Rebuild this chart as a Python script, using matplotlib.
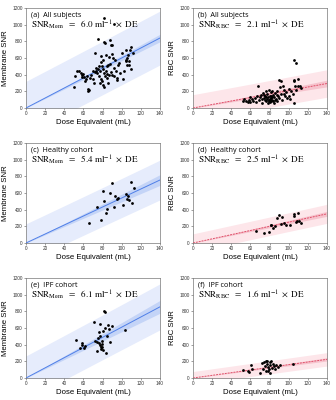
import numpy as np
import matplotlib
matplotlib.use('Agg')
import matplotlib.pyplot as plt

plt.rcParams['font.family'] = ['Liberation Sans', 'DejaVu Sans']
plt.rcParams['mathtext.fontset'] = 'stix'

# (a) all subjects, membrane
a_x = [50, 51, 53, 55, 57, 58, 59, 60, 61, 62, 63, 64, 65, 65, 66, 67, 68, 70, 71, 72,
       73, 73, 74, 75, 75, 76, 76, 77, 77, 78, 78, 79, 79, 80, 80, 80, 81, 81, 82, 82,
       83, 83, 84, 84, 85, 85, 86, 87, 87, 88, 88, 89, 89, 90, 90, 91, 92, 92, 93, 94,
       95, 95, 96, 97, 98, 100, 101, 102, 104, 105, 106, 106, 107, 108, 108, 109, 110, 110, 112, 105,
       90, 85, 70, 72, 78, 86, 92]
a_y = [250, 390, 450, 445, 420, 370, 400, 410, 370, 330, 350, 380, 230, 210, 220, 360, 400, 350, 300, 660,
       480, 440, 420, 470, 830, 500, 380, 300, 450, 550, 620, 500, 330, 580, 470, 280, 1080, 420, 790, 250,
       780, 380, 640, 450, 500, 360, 520, 610, 400, 820, 530, 750, 430, 650, 760, 600, 480, 390, 570, 450,
       360, 340, 520, 540, 420, 660, 350, 450, 560, 700, 520, 600, 630, 560, 520, 700, 730, 470, 660, 580,
       400, 410, 440, 430, 350, 300, 1010]

# (b) all subjects, RBC
b_x = [52, 53, 55, 57, 58, 60, 60, 62, 63, 65, 66, 67, 68, 69, 70, 71, 72, 72, 73, 74,
       75, 75, 76, 76, 77, 77, 78, 78, 79, 79, 80, 80, 80, 81, 81, 82, 82, 83, 83, 84,
       84, 85, 85, 86, 87, 88, 88, 89, 90, 90, 91, 92, 92, 93, 94, 95, 96, 97, 98, 100,
       101, 102, 104, 105, 105, 106, 106, 107, 108, 108, 110, 110, 112, 113, 100, 95, 88, 86, 76, 74,
       79, 83]
b_y = [80, 110, 90, 75, 100, 70, 130, 110, 90, 120, 75, 150, 270, 100, 130, 160, 60, 110, 180, 120,
       95, 140, 200, 80, 110, 170, 130, 60, 90, 220, 110, 150, 70, 190, 120, 80, 140, 100, 200, 160,
       90, 130, 60, 180, 110, 210, 80, 150, 340, 120, 250, 330, 170, 100, 260, 220, 140, 190, 120, 230,
       110, 200, 170, 570, 330, 340, 60, 260, 540, 220, 350, 260, 260, 240, 140, 170, 160, 95, 130, 160,
       100, 130]

# (c) healthy, membrane
c_x = [66, 78, 74, 80, 82, 84, 85, 88, 90, 92, 93, 95, 96, 101, 105, 106, 107, 108, 110, 111, 113]
c_y = [240, 275, 430, 625, 510, 360, 410, 605, 715, 430, 570, 530, 540, 455, 590, 530, 560, 520, 735, 475, 665]

# (d) healthy, RBC
d_x = [66, 74, 79, 81, 82, 84, 86, 88, 90, 92, 93, 95, 97, 101, 105, 106, 108, 109, 110, 111, 113]
d_y = [145, 120, 130, 215, 220, 180, 210, 300, 340, 230, 310, 235, 215, 220, 345, 330, 250, 260, 355, 265, 240]

# (e) IPF, membrane
e_x = [52.6, 56.4, 58.5, 58.9, 60.6, 61.3, 71.4, 72, 73.8, 74.5, 75, 76, 76.6, 77.3, 77.7, 78.4, 79, 79.4,
       79.8, 80, 80.5, 81.2, 82.2, 83, 83.6, 84.3, 85.3, 86.7, 87.8, 90, 103, 77, 78]
e_y = [451, 366, 395, 423, 366, 383, 668, 443, 435, 330, 479, 556, 423, 508, 648, 354, 443, 411,
       378, 338, 564, 801, 789, 604, 298, 508, 636, 592, 435, 624, 572, 400, 370]

# (f) IPF, RBC
f_x = [52.6, 57.5, 58.5, 60.3, 62, 70.4, 71.8, 73.5, 74.5, 75.2, 76, 77, 77.7, 78, 78.7, 79.4, 80, 80.8,
       81.5, 82.2, 83.2, 84.3, 85.7, 87, 88.5, 90.5, 104.5, 76.5, 80.4]
f_y = [101, 80, 68, 153, 113, 64, 177, 113, 193, 141, 201, 169, 205, 80, 133, 105, 193, 153,
       201, 121, 169, 145, 113, 161, 133, 153, 165, 89, 64]

labels = ['(a)  All subjects', '(b)  All subjects', '(c)  Healthy cohort',
          '(d)  Healthy cohort', '(e)  IPF cohort', '(f)  IPF cohort']
subs = ['Mem', 'RBC', 'Mem', 'RBC', 'Mem', 'RBC']
slopes = [6.0, 2.1, 5.4, 2.5, 6.1, 1.6]
pred_half0 = [320, 160, 230, 110, 265, 78]     # prediction band half-width at DE = 0
conf_half140 = [45, 40, 64, 30, 77, 20]       # confidence band half-width at DE = 140
xs = [a_x, b_x, c_x, d_x, e_x, f_x]
ys = [a_y, b_y, c_y, d_y, e_y, f_y]

fig = plt.figure(figsize=(3.36, 4.0), dpi=100)
lefts = [26 / 336, 193 / 336]
bottoms = [1 - 108 / 400, 1 - 243 / 400, 1 - 378 / 400]
w, h = 134 / 336, 100 / 400

grid = np.linspace(0, 140, 200)
for i in range(6):
    ax = fig.add_axes([lefts[i % 2], bottoms[i // 2], w, h])
    mem = subs[i] == 'Mem'
    light = '#e6ecfc' if mem else '#fde6ea'
    dark = '#c4d4f7' if mem else '#f6c3cd'
    lc = '#4f7fe8' if mem else '#e0506a'

    fit = slopes[i] * grid
    conf = conf_half140[i] * grid / 140
    pred = np.sqrt(pred_half0[i] ** 2 + conf ** 2)
    ax.fill_between(grid, fit - pred, fit + pred, color=light, lw=0, zorder=1)
    ax.fill_between(grid, fit - conf, fit + conf, color=dark, lw=0, zorder=2)
    ax.plot(grid, fit, color=lc, lw=0.7, ls='-' if mem else (0, (2, 1)), zorder=3)
    ax.scatter(xs[i], ys[i], s=4, color='black', lw=0, zorder=4)

    ax.set_xlim(0, 140)
    ax.set_ylim(0, 1200)
    ax.set_xticks(range(0, 141, 20))
    ax.set_yticks(range(0, 1201, 200))
    ax.tick_params(labelsize=3.4, length=1.5, width=0.4, pad=1, colors='#555555', labelcolor='#333333')
    for s in ax.spines.values():
        s.set_linewidth(0.5)
        s.set_color('#777777')

    ax.set_xlabel('Dose Equivalent (mL)', fontsize=5.6, labelpad=1.5)
    ax.set_ylabel('Membrane SNR' if mem else 'RBC SNR', fontsize=5.6, labelpad=2)

    ax.text(5, 1110, labels[i], fontsize=5.2, family=['Open Sans', 'DejaVu Sans'], va='center')
    eq = r'$\mathrm{SNR}_{\mathrm{%s}}\ \ =\ \ %.1f\ \mathrm{ml}^{-1}\ \times\ \mathrm{DE}$' % (subs[i], slopes[i])
    ax.text(5, 995, eq, fontsize=6.6, va='center')

fig.savefig('out.png', dpi=100)
